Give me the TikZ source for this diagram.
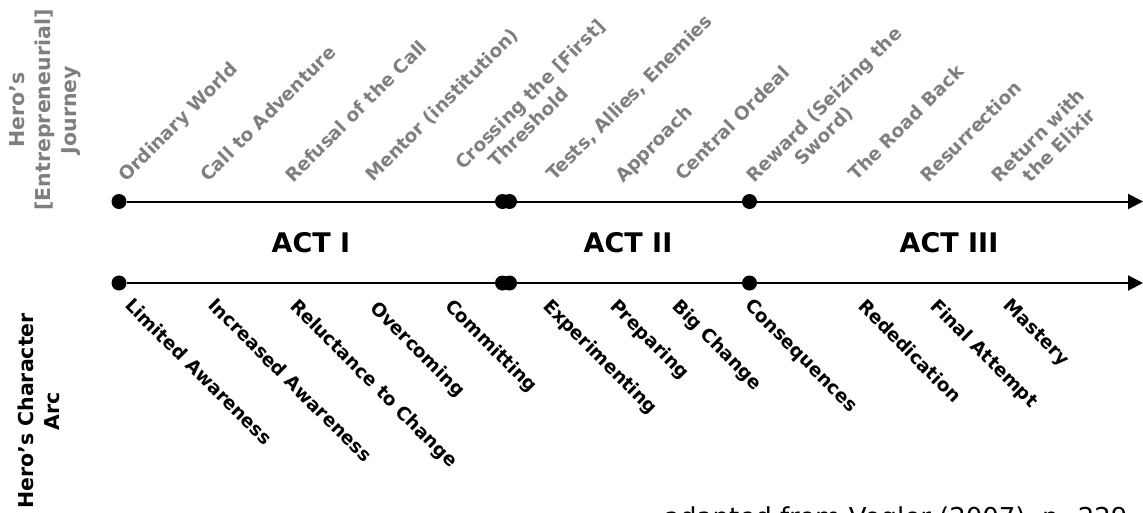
\documentclass[tikz,border=0pt]{standalone}
\usepackage{fontspec}
\setmainfont{DejaVu Sans}
\usetikzlibrary{arrows.meta}
\definecolor{stagegrey}{RGB}{127,127,127}
\begin{document}
\begin{tikzpicture}[x=1pt,y=-1pt,
  dot/.style={circle,fill=black,inner sep=0pt,minimum size=15pt},
  axis/.style={line width=2pt},
  stage/.style={rotate=45,anchor=base west,inner sep=0pt,text=stagegrey,
    font=\fontsize{18.5}{22}\selectfont\bfseries},
  arcstep/.style={rotate=-45,anchor=north west,inner sep=0pt,
    font=\fontsize{18.5}{22}\selectfont\bfseries},
  act/.style={inner sep=0pt,font=\fontsize{27}{32}\selectfont\bfseries},
  side/.style={rotate=90,align=center,inner sep=0pt,
    font=\fontsize{20.5}{26}\selectfont\bfseries}]
\useasboundingbox (0,0) rectangle (1143,512);

% side titles
\node[side,text=stagegrey] (journeytitle) at (45,110)
  {Hero’s\\{[}Entrepreneurial{]}\\Journey};
\node[side] (arctitle) at (39,411) {Hero’s Character\\Arc};

% upper time line: the hero's journey
\node[dot] (j0) at (119,201.5) {};
\node[dot] (j1a) at (502.5,201.5) {};
\node[dot] (j1b) at (509.5,201.5) {};
\node[dot] (j2) at (749.5,201.5) {};
\coordinate (jend) at (1143,201.5);
\draw[axis] (j0) -- (j1a);
\draw[axis] (j1b) -- (j2);
\draw[axis,-{Triangle[length=15pt,width=15pt]}] (j2) -- (jend);

% lower time line: the character arc
\node[dot] (c0) at (119,283) {};
\node[dot] (c1a) at (502.5,283) {};
\node[dot] (c1b) at (509.5,283) {};
\node[dot] (c2) at (749.5,283) {};
\coordinate (cend) at (1143,283);
\draw[axis] (c0) -- (c1a);
\draw[axis] (c1b) -- (c2);
\draw[axis,-{Triangle[length=15pt,width=15pt]}] (c2) -- (cend);

% acts
\node[act] (act1) at (311,243) {ACT I};
\node[act] (act2) at (628,243) {ACT II};
\node[act] (act3) at (949,243) {ACT III};

% stages of the journey
\node[stage] (s1) at (126,183) {Ordinary World};
\node[stage] (s2) at (208,183) {Call to Adventure};
\node[stage] (s3) at (293,184) {Refusal of the Call};
\node[stage] (s4) at (373,183) {Mentor (institution)};
\node[stage] (s5) at (463,171) {\begin{tabular}[t]{@{}l@{}}Crossing the [First]\\\hspace*{25pt}Threshold\end{tabular}};
\node[stage] (s6) at (554,182) {Tests, Allies, Enemies};
\node[stage] (s7) at (623,184) {Approach};
\node[stage] (s8) at (683,182) {Central Ordeal};
\node[stage] (s9) at (754,184) {\begin{tabular}[t]{@{}l@{}}Reward (Seizing the\\\hspace*{46pt}Sword)\end{tabular}};
\node[stage] (s10) at (856,182) {The Road Back};
\node[stage] (s11) at (928,184) {Resurrection};
\node[stage] (s12) at (999,184) {\begin{tabular}[t]{@{}l@{}}Return with\\\hspace*{23pt}the Elixir\end{tabular}};

% steps of the character arc
\node[arcstep] (a1) at (134,296) {Limited Awareness};
\node[arcstep] (a2) at (217,296) {Increased Awareness};
\node[arcstep] (a3) at (299,297) {Reluctance to Change};
\node[arcstep] (a4) at (379,299) {Overcoming};
\node[arcstep] (a5) at (454,297) {Committing};
\node[arcstep] (a6) at (552,297) {Experimenting};
\node[arcstep] (a7) at (619,297) {Preparing};
\node[arcstep] (a8) at (681,297) {Big Change};
\node[arcstep] (a9) at (754,297) {Consequences};
\node[arcstep] (a10) at (867,297) {Rededication};
\node[arcstep] (a11) at (939,297) {Final Attempt};
\node[arcstep] (a12) at (1012,297) {Mastery};

% source line
\node[anchor=base west,inner sep=0pt,font=\fontsize{26}{30}\selectfont] (source)
  at (664,526) {adapted from Vogler (2007), p. 229};
\end{tikzpicture}
\end{document}
